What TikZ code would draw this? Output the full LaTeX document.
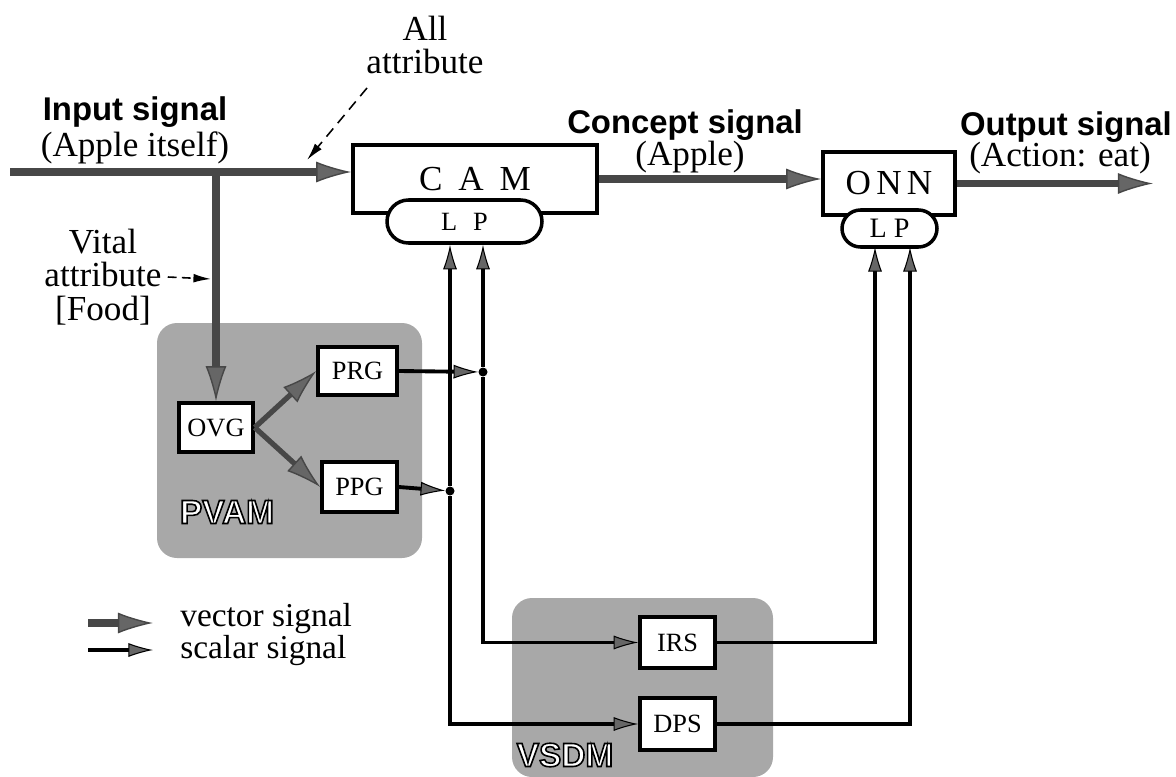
\documentclass[tikz,border=0pt]{standalone}
\usepackage{fontspec}
\setmainfont{Liberation Serif}
\newfontfamily\headfont{Liberation Sans}
\usetikzlibrary{arrows.meta, shapes.misc}

% white letters with a black outline
\newcommand{\hollow}[1]{\textcolor{white}{\special{pdf:literal direct 2 Tr 0.9 w 0 G}#1\special{pdf:literal direct 0 Tr}}}

\tikzset{
	block/.style={draw, line width=2pt, fill=white, inner sep=0pt, font=\fontsize{15}{17}\selectfont},
	lp/.style={draw, rounded rectangle, line width=2pt, fill=white, inner sep=0pt, font=\fontsize{15}{17}\selectfont},
	area/.style={fill=black!34, rounded corners=0.4cm},
	modlabel/.style={font=\headfont\bfseries\fontsize{19}{21}\selectfont},
	vector/.style={line width=4pt, draw=black!72, -{Latex[length=20pt, width=12pt, line width=0.8pt, fill=black!60]}},
	scalar/.style={line width=2.2pt, -{Latex[length=14pt, width=8pt, line width=0.6pt, fill=black!60]}},
	hint/.style={line width=0.9pt, dash pattern=on 6pt off 4pt, -{Latex[length=10pt, width=5pt]}},
	head/.style={font=\headfont\bfseries\fontsize{18.7}{21}\selectfont},
	sub/.style={font=\fontsize{20}{22}\selectfont},
	legend/.style={anchor=west, inner sep=0pt, font=\fontsize{19}{21}\selectfont},
	junction/.style={circle, fill, inner sep=0pt, minimum size=0.18cm},
}

\begin{document}
\begin{tikzpicture}[x=0.02cm, y=-0.02cm]
	\useasboundingbox (0,0) rectangle (1176,777);

	%% grey modules
	\fill[area] (157,323) rectangle (422,558);
	\fill[area] (512,598) rectangle (773,777);
	\node[modlabel] (pvam) at (227,512) {\hollow{PVAM}};
	\node[modlabel] (vsdm) at (565,755) {\hollow{VSDM}};

	%% main blocks
	\node[block, minimum width=4.88cm, minimum height=1.36cm, font=\fontsize{20}{22}\selectfont] (cam) at (475,179) {C\hspace{0.45em}A\hspace{0.45em}M};
	\node[lp, minimum width=3.1cm, minimum height=0.86cm] (camlp) at (464.5,221.5) {L\hspace{0.6em}P};
	\node[block, minimum width=2.64cm, minimum height=1.26cm, font=\fontsize{20}{22}\selectfont] (onn) at (889,183.5) {O\hspace{0.15em}N\hspace{0.15em}N};
	\node[lp, minimum width=1.9cm, minimum height=0.74cm, font=\fontsize{16}{18}\selectfont] (onnlp) at (889.5,228.5) {L\hspace{0.25em}P};

	%% module blocks
	\node[block, minimum width=1.48cm, minimum height=0.98cm] (ovg) at (216,427.5) {OVG};
	\node[block, minimum width=1.58cm, minimum height=0.96cm] (prg) at (357.5,371) {PRG};
	\node[block, minimum width=1.5cm, minimum height=1.0cm] (ppg) at (359.5,487) {PPG};
	\node[block, minimum width=1.5cm, minimum height=1.02cm] (irs) at (677.5,642.5) {IRS};
	\node[block, minimum width=1.5cm, minimum height=1.04cm] (dps) at (677.5,724) {DPS};

	%% junctions
	\node[junction] (dotr) at (483,372) {};
	\node[junction] (dotl) at (450,491) {};

	%% signal names
	\node[head] (inhead) at (135,112) {Input signal};
	\node[sub] (insub) at (135,148) {(Apple itself)};
	\node[head] (cohead) at (685,125) {Concept signal};
	\node[sub] (cosub) at (690,157) {(Apple)};
	\node[head] (outhead) at (1066,127) {Output signal};
	\node[sub] (outsub) at (1060,158) {(Action: eat)};

	%% attributes
	\node[sub, align=center] (allattr) at (425,45) {All\\[-3pt]attribute};
	\node[sub, align=center] (vital) at (103,277) {Vital\\[-3pt]attribute\\[-3pt][Food]};

	%% end points
	\coordinate (in) at (10,172);
	\coordinate (out) at (1153,187);
	\coordinate (allfrom) at (367,88);
	\coordinate (alltip) at (307,160);
	\coordinate (vitaltip) at (211,279);
	\coordinate (onna) at (875,247);
	\coordinate (onnb) at (910,247);

	%% vector signals
	\draw[vector] (in) -- (in -| cam.west);
	\draw[vector] (in -| ovg.north) -- (ovg.north);
	\draw[vector] (cam.east) -- (cam.east -| onn.west);
	\draw[vector] (onn.east) -- (onn.east -| out);
	\draw[vector, line width=3pt] (ovg.east) -- (prg.west);
	\draw[vector, line width=3pt] (ovg.east) -- (ppg.west);

	%% scalar signals
	\draw[scalar] (prg.east) -- (dotr);
	\draw[scalar] (ppg.east) -- (dotl);
	\draw[scalar] (dotr) -- (dotr |- camlp.south);
	\draw[scalar] (dotl) -- (dotl |- camlp.south);
	\draw[scalar] (dotr) |- (irs.west);
	\draw[scalar] (dotl) |- (dps.west);
	\draw[scalar] (irs.east) -| (onna);
	\draw[scalar] (dps.east) -| (onnb);

	%% attribute pointers
	\draw[hint] (allfrom) -- (alltip);
	\draw[hint, dash pattern=on 5pt off 3pt] (vital.east) -- (vitaltip);

	%% legend
	\node[legend] (legvec) at (180,619) {vector signal};
	\node[legend] (legsca) at (180,651) {scalar signal};
	\coordinate (lva) at (88,623);
	\coordinate (lsa) at (88,650);
	\draw[vector] (lva) -- ++(65,0);
	\draw[scalar] (lsa) -- ++(65,0);
\end{tikzpicture}
\end{document}
